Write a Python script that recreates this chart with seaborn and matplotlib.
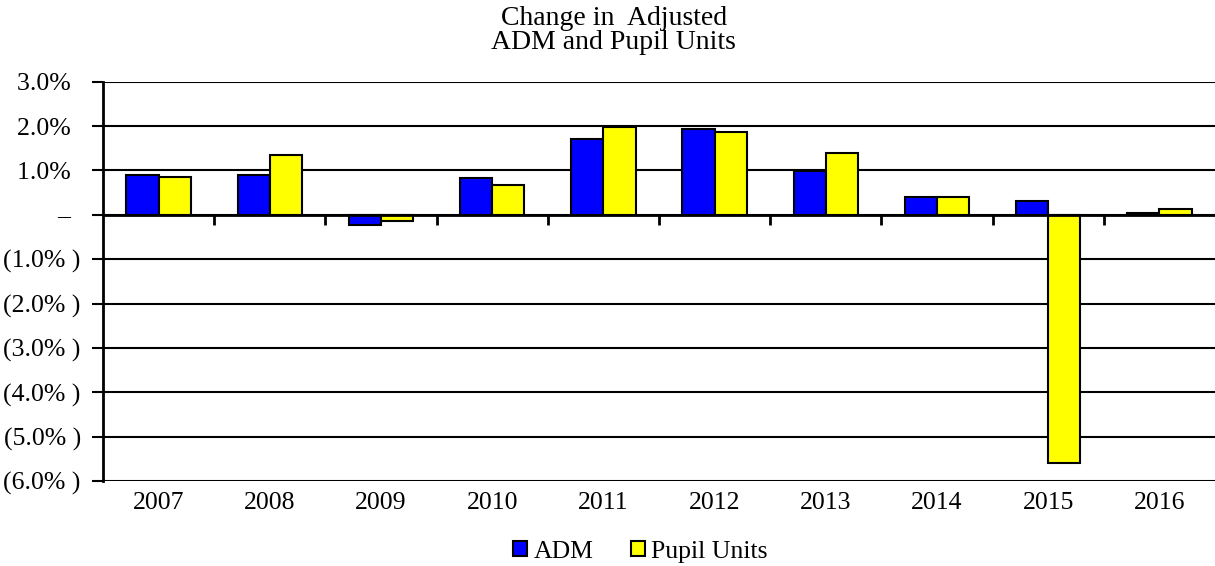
import pandas as pd
import seaborn as sns
import numpy as np
import matplotlib.pyplot as plt
from matplotlib.ticker import FuncFormatter

# data
years = ['2007', '2008', '2009', '2010', '2011', '2012', '2013', '2014', '2015', '2016']
adm = [0.90, 0.90, -0.23, 0.82, 1.71, 1.93, 0.99, 0.41, 0.32, 0.05]
pupil_units = [0.86, 1.35, -0.14, 0.68, 1.98, 1.86, 1.39, 0.41, -5.60, 0.14]

df = pd.DataFrame({'year': years, 'ADM': adm, 'Pupil Units': pupil_units})
mdf = pd.melt(df, id_vars=['year'], var_name='series', value_name='value')

sns.set_style('white')
plt.rcParams['font.family'] = ['Liberation Serif', 'DejaVu Serif']
plt.rcParams['text.color'] = 'black'

fig = plt.figure(figsize=(12.15, 5.66), dpi=100)
ax = fig.add_axes([0.0848, 0.150, 0.9152, 0.7057])

my_pal = {'ADM': '#0000FF', 'Pupil Units': '#FFFF00'}
sns.barplot(data=mdf, x='year', y='value', hue='series', palette=my_pal,
            width=0.58, saturation=1, edgecolor='black', linewidth=1.5,
            ax=ax, zorder=3)

ax.set_ylim(-6, 3)
ax.set_xlim(-0.5, 9.5)
ax.set_yticks(np.arange(-6, 3.5, 1))


def pct(v, pos):
    # accounting style labels like the spreadsheet
    if abs(v) < 1e-9:
        return '\u2013\u2009\u2009'
    if v < 0:
        return '(%.1f%% )' % abs(v)
    return '%.1f%%\u2009\u2009' % v


ax.yaxis.set_major_formatter(FuncFormatter(pct))
ax.grid(axis='y', color='black', linewidth=1.5, zorder=0)
ax.set_axisbelow(True)
ax.tick_params(axis='y', which='major', left=True, direction='out', length=8,
               width=1.5, color='black', labelcolor='black', labelsize=18.5, pad=8)
ax.tick_params(axis='x', length=0, labelcolor='black', labelsize=18.5, pad=8)
ax.set_xlabel('')
ax.set_ylabel('')

for side in ['top', 'right', 'bottom']:
    ax.spines[side].set_visible(False)
ax.spines['left'].set_color('black')
ax.spines['left'].set_linewidth(2)

# zero line with category separator ticks
ax.axhline(0, color='black', linewidth=2, zorder=4)
sec = ax.secondary_xaxis(0, transform=ax.transData)
sec.set_xticks(np.arange(0.5, 9.5, 1))
sec.set_xticklabels([])
sec.tick_params(direction='out', bottom=True, length=7, width=2, color='black')
sec.spines['bottom'].set_visible(False)

fig.suptitle('Change in  Adjusted\nADM and Pupil Units', x=0.505, y=0.99,
             fontsize=20, linespacing=0.95, color='black')

handles, labels = ax.get_legend_handles_labels()
ax.legend_.remove()
fig.legend(handles, labels, loc='lower center', bbox_to_anchor=(0.527, -0.035),
           ncol=2, frameon=False, fontsize=18.5, handlelength=0.55,
           handleheight=0.55, handletextpad=0.25, columnspacing=1.45,
           labelcolor='black')

fig.savefig('out.png', dpi=100)
